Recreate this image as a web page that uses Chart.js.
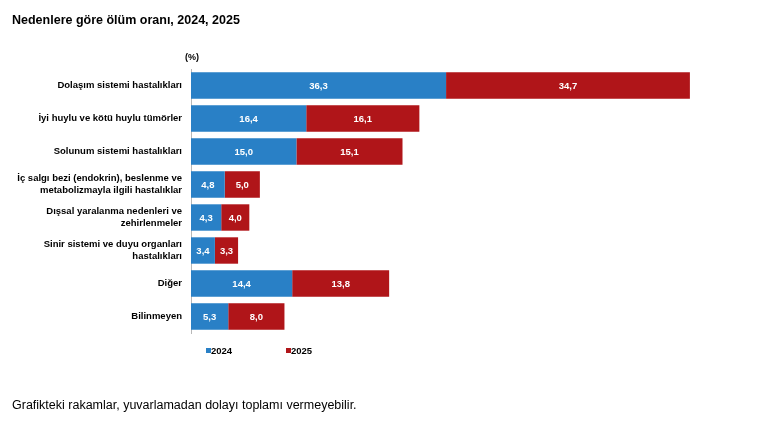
<!DOCTYPE html>
<html>
<head>
<meta charset="utf-8">
<script src="https://cdn.jsdelivr.net/npm/chart.js@4/dist/chart.umd.min.js"></script>
<style>
  html, body { margin: 0; padding: 0; background: #fff; }
  #wrap { position: relative; width: 777px; height: 426px; overflow: hidden; }
  #title { position: absolute; left: 12px; top: 13px; font: bold 12.5px "Liberation Sans", Arial, sans-serif; color: #000; }
  #unit { position: absolute; left: 185px; top: 52px; font: bold 9px "Liberation Sans", Arial, sans-serif; color: #000; }
  #note { position: absolute; left: 12px; top: 398px; font: 12.5px "Liberation Sans", Arial, sans-serif; color: #000; }
  canvas { position: absolute; left: 0; top: 0; }
</style>
</head>
<body>
<div id="wrap">
  <canvas id="c" width="777" height="426"></canvas>
  <div id="title">Nedenlere göre ölüm oranı, 2024, 2025</div>
  <div id="unit">(%)</div>
  <div id="note">Grafikteki rakamlar, yuvarlamadan dolayı toplamı vermeyebilir.</div>
</div>
<script>
const categories = [
  "Dolaşım sistemi hastalıkları",
  "İyi huylu ve kötü huylu tümörler",
  "Solunum sistemi hastalıkları",
  ["İç salgı bezi (endokrin), beslenme ve", "metabolizmayla ilgili hastalıklar"],
  ["Dışsal yaralanma nedenleri ve", "zehirlenmeler"],
  ["Sinir sistemi ve duyu organları", "hastalıkları"],
  "Diğer",
  "Bilinmeyen"
];
const values2024 = [36.3, 16.4, 15.0, 4.8, 4.3, 3.4, 14.4, 5.3];
const values2025 = [34.7, 16.1, 15.1, 5.0, 4.0, 3.3, 13.8, 8.0];
const seriesNames = ["2024", "2025"];
const colors = ["#2980c6", "#b01519"];

const FONT = '"Liberation Sans", Arial, sans-serif';

const barLabels = {
  id: 'barLabels',
  afterDatasetsDraw(chart) {
    const ctx = chart.ctx;
    ctx.save();
    ctx.font = 'bold 9.5px ' + FONT;
    ctx.fillStyle = '#fff';
    ctx.textAlign = 'center';
    ctx.textBaseline = 'middle';
    chart.data.datasets.forEach((ds, di) => {
      const meta = chart.getDatasetMeta(di);
      meta.data.forEach((bar, i) => {
        const v = ds.data[i];
        const cx = (bar.x + bar.base) / 2;
        ctx.fillText(v.toFixed(1).replace('.', ','), cx, bar.y + 1);
      });
    });
    ctx.restore();
  }
};

const customLegend = {
  id: 'customLegend',
  afterDraw(chart) {
    const ctx = chart.ctx;
    ctx.save();
    ctx.font = 'bold 9.5px ' + FONT;
    ctx.textBaseline = 'middle';
    ctx.textAlign = 'left';
    const xs = [206, 286];
    const y = 351;
    chart.data.datasets.forEach((ds, i) => {
      ctx.fillStyle = ds.backgroundColor;
      ctx.fillRect(xs[i], y - 3, 5, 5);
      ctx.fillStyle = '#000';
      ctx.fillText(ds.label, xs[i] + 5, y);
    });
    ctx.restore();
  }
};

new Chart(document.getElementById('c'), {
  type: 'bar',
  data: {
    labels: categories,
    datasets: [
      { label: seriesNames[0], data: values2024, backgroundColor: colors[0] },
      { label: seriesNames[1], data: values2025, backgroundColor: colors[1] }
    ]
  },
  options: {
    indexAxis: 'y',
    responsive: false,
    animation: false,
    devicePixelRatio: 1,
    layout: { padding: { top: 69, bottom: 93, left: 0, right: 59 } },
    datasets: { bar: { barPercentage: 0.8, categoryPercentage: 1.0 } },
    plugins: { legend: { display: false }, tooltip: { enabled: false }, title: { display: false } },
    scales: {
      x: { stacked: true, min: 0, max: 75, display: false },
      y: {
        stacked: true,
        afterFit(scale) { scale.width = 191; },
        grid: { display: false, drawTicks: false },
        border: { display: true, color: '#b8b8b8', width: 1 },
        ticks: { color: '#000', padding: 9, font: { family: FONT, size: 9.5, weight: 'bold', lineHeight: 1.25 } }
      }
    }
  },
  plugins: [barLabels, customLegend]
});
</script>
</body>
</html>
